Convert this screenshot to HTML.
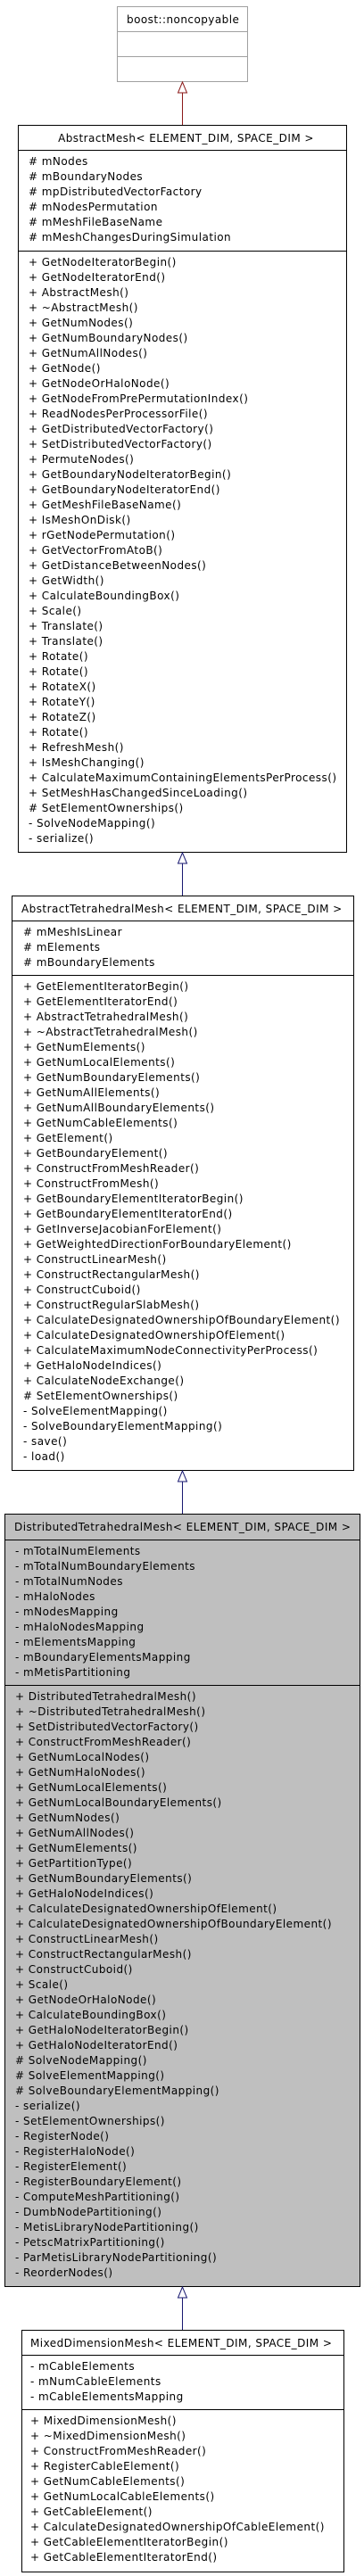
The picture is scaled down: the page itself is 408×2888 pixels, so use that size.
<!DOCTYPE html>
<html><head><meta charset="utf-8"><style>
html,body{margin:0;padding:0;background:#fff;}
body{width:408px;height:2888px;position:relative;overflow:hidden;font-family:"DejaVu Sans","Liberation Sans",sans-serif;font-size:12px;color:#000;}
.box{position:absolute;border:1px solid #000;box-sizing:border-box;background:#fff;overflow:hidden;}
.t{position:absolute;left:0;right:0;height:28px;line-height:28px;white-space:nowrap;letter-spacing:0.45px;}
.d{position:absolute;left:0;right:0;border-top:1px solid #000;}
.l{position:absolute;white-space:nowrap;line-height:17px;letter-spacing:0.45px;}
svg{position:absolute;left:0;top:0;}
</style></head><body>

<div class="box" style="left:131px;top:7px;width:147px;height:85px;border-color:#a0a0a0;">
<div class="t" style="left:10px;">boost::noncopyable</div>
<div class="d" style="top:27px;border-color:#a0a0a0;"></div>
<div class="d" style="top:55px;border-color:#a0a0a0;"></div>
</div>

<div class="box" style="left:20px;top:140px;width:369px;height:816px;">
<div class="t" style="text-align:center;left:8px;">AbstractMesh&lt; ELEMENT_DIM, SPACE_DIM &gt;</div>
<div class="d" style="top:27px;"></div>
<div class="l" style="left:11px;top:32px;">
# mNodes<br># mBoundaryNodes<br># mpDistributedVectorFactory<br># mNodesPermutation<br># mMeshFileBaseName<br># mMeshChangesDuringSimulation</div>
<div class="d" style="top:140px;"></div>
<div class="l" style="left:11px;top:145px;">
+ GetNodeIteratorBegin()<br>+ GetNodeIteratorEnd()<br>+ AbstractMesh()<br>+ ~AbstractMesh()<br>+ GetNumNodes()<br>+ GetNumBoundaryNodes()<br>+ GetNumAllNodes()<br>+ GetNode()<br>+ GetNodeOrHaloNode()<br>+ GetNodeFromPrePermutationIndex()<br>+ ReadNodesPerProcessorFile()<br>+ GetDistributedVectorFactory()<br>+ SetDistributedVectorFactory()<br>+ PermuteNodes()<br>+ GetBoundaryNodeIteratorBegin()<br>+ GetBoundaryNodeIteratorEnd()<br>+ GetMeshFileBaseName()<br>+ IsMeshOnDisk()<br>+ rGetNodePermutation()<br>+ GetVectorFromAtoB()<br>+ GetDistanceBetweenNodes()<br>+ GetWidth()<br>+ CalculateBoundingBox()<br>+ Scale()<br>+ Translate()<br>+ Translate()<br>+ Rotate()<br>+ Rotate()<br>+ RotateX()<br>+ RotateY()<br>+ RotateZ()<br>+ Rotate()<br>+ RefreshMesh()<br>+ IsMeshChanging()<br>+ CalculateMaximumContainingElementsPerProcess()<br>+ SetMeshHasChangedSinceLoading()<br># SetElementOwnerships()<br>- SolveNodeMapping()<br>- serialize()</div>
</div>

<div class="box" style="left:13px;top:1004px;width:384px;height:645px;">
<div class="t" style="left:10px;">AbstractTetrahedralMesh&lt; ELEMENT_DIM, SPACE_DIM &gt;</div>
<div class="d" style="top:27px;"></div>
<div class="l" style="left:12px;top:32px;">
# mMeshIsLinear<br># mElements<br># mBoundaryElements</div>
<div class="d" style="top:88px;"></div>
<div class="l" style="left:12px;top:93px;">
+ GetElementIteratorBegin()<br>+ GetElementIteratorEnd()<br>+ AbstractTetrahedralMesh()<br>+ ~AbstractTetrahedralMesh()<br>+ GetNumElements()<br>+ GetNumLocalElements()<br>+ GetNumBoundaryElements()<br>+ GetNumAllElements()<br>+ GetNumAllBoundaryElements()<br>+ GetNumCableElements()<br>+ GetElement()<br>+ GetBoundaryElement()<br>+ ConstructFromMeshReader()<br>+ ConstructFromMesh()<br>+ GetBoundaryElementIteratorBegin()<br>+ GetBoundaryElementIteratorEnd()<br>+ GetInverseJacobianForElement()<br>+ GetWeightedDirectionForBoundaryElement()<br>+ ConstructLinearMesh()<br>+ ConstructRectangularMesh()<br>+ ConstructCuboid()<br>+ ConstructRegularSlabMesh()<br>+ CalculateDesignatedOwnershipOfBoundaryElement()<br>+ CalculateDesignatedOwnershipOfElement()<br>+ CalculateMaximumNodeConnectivityPerProcess()<br>+ GetHaloNodeIndices()<br>+ CalculateNodeExchange()<br># SetElementOwnerships()<br>- SolveElementMapping()<br>- SolveBoundaryElementMapping()<br>- save()<br>- load()</div>
</div>

<div class="box" style="left:5px;top:1697px;width:399px;height:867px;background:#bfbfbf;">
<div class="t" style="left:10px;">DistributedTetrahedralMesh&lt; ELEMENT_DIM, SPACE_DIM &gt;</div>
<div class="d" style="top:28px;"></div>
<div class="l" style="left:11px;top:33px;">
- mTotalNumElements<br>- mTotalNumBoundaryElements<br>- mTotalNumNodes<br>- mHaloNodes<br>- mNodesMapping<br>- mHaloNodesMapping<br>- mElementsMapping<br>- mBoundaryElementsMapping<br>- mMetisPartitioning</div>
<div class="d" style="top:191px;"></div>
<div class="l" style="left:11px;top:196px;">
+ DistributedTetrahedralMesh()<br>+ ~DistributedTetrahedralMesh()<br>+ SetDistributedVectorFactory()<br>+ ConstructFromMeshReader()<br>+ GetNumLocalNodes()<br>+ GetNumHaloNodes()<br>+ GetNumLocalElements()<br>+ GetNumLocalBoundaryElements()<br>+ GetNumNodes()<br>+ GetNumAllNodes()<br>+ GetNumElements()<br>+ GetPartitionType()<br>+ GetNumBoundaryElements()<br>+ GetHaloNodeIndices()<br>+ CalculateDesignatedOwnershipOfElement()<br>+ CalculateDesignatedOwnershipOfBoundaryElement()<br>+ ConstructLinearMesh()<br>+ ConstructRectangularMesh()<br>+ ConstructCuboid()<br>+ Scale()<br>+ GetNodeOrHaloNode()<br>+ CalculateBoundingBox()<br>+ GetHaloNodeIteratorBegin()<br>+ GetHaloNodeIteratorEnd()<br># SolveNodeMapping()<br># SolveElementMapping()<br># SolveBoundaryElementMapping()<br>- serialize()<br>- SetElementOwnerships()<br>- RegisterNode()<br>- RegisterHaloNode()<br>- RegisterElement()<br>- RegisterBoundaryElement()<br>- ComputeMeshPartitioning()<br>- DumbNodePartitioning()<br>- MetisLibraryNodePartitioning()<br>- PetscMatrixPartitioning()<br>- ParMetisLibraryNodePartitioning()<br>- ReorderNodes()</div>
</div>

<div class="box" style="left:24px;top:2612px;width:362px;height:272px;">
<div class="t" style="left:9px;">MixedDimensionMesh&lt; ELEMENT_DIM, SPACE_DIM &gt;</div>
<div class="d" style="top:27px;"></div>
<div class="l" style="left:9px;top:32px;">
- mCableElements<br>- mNumCableElements<br>- mCableElementsMapping</div>
<div class="d" style="top:88px;"></div>
<div class="l" style="left:9px;top:93px;">
+ MixedDimensionMesh()<br>+ ~MixedDimensionMesh()<br>+ ConstructFromMeshReader()<br>+ RegisterCableElement()<br>+ GetNumCableElements()<br>+ GetNumLocalCableElements()<br>+ GetCableElement()<br>+ CalculateDesignatedOwnershipOfCableElement()<br>+ GetCableElementIteratorBegin()<br>+ GetCableElementIteratorEnd()</div>
</div>

<svg width="408" height="2888" viewBox="0 0 408 2888">
<g fill="#fff" stroke-width="1">
<line x1="204.5" y1="104" x2="204.5" y2="140" stroke="#8b1a1a"/>
<polygon points="204.5,92 199.5,104 209.5,104" stroke="#8b1a1a"/>
<line x1="204.5" y1="968" x2="204.5" y2="1004" stroke="#191970"/>
<polygon points="204.5,956 199.5,968 209.5,968" stroke="#191970"/>
<line x1="204.5" y1="1661" x2="204.5" y2="1697" stroke="#191970"/>
<polygon points="204.5,1649 199.5,1661 209.5,1661" stroke="#191970"/>
<line x1="204.5" y1="2576" x2="204.5" y2="2612" stroke="#191970"/>
<polygon points="204.5,2564 199.5,2576 209.5,2576" stroke="#191970"/>
</g>
</svg>
</body></html>
